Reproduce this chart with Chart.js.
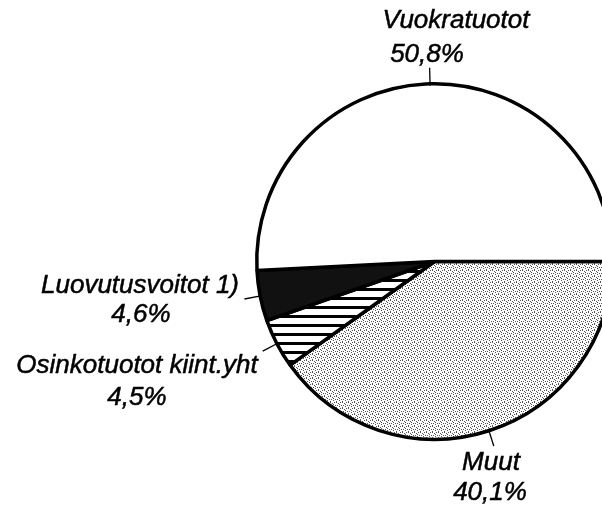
<!DOCTYPE html>
<html>
<head>
<meta charset="utf-8">
<script src="https://cdn.jsdelivr.net/npm/chart.js@4"></script>
<style>
  html, body { margin: 0; padding: 0; background: #fff; overflow: hidden; }
  #wrap { width: 640px; height: 506px; }
</style>
</head>
<body>
<div id="wrap"><canvas id="pie" width="640" height="506"></canvas></div>
<script>
// slices clockwise from 3 o'clock
const categories = ['Muut', 'Osinkotuotot kiint.yht', 'Luovutusvoitot 1)', 'Vuokratuotot'];
const shares = [40.1, 4.5, 4.6, 50.8];

// label text anchors: [name x, name baseline, pct x, pct baseline]
const labelPos = [
  [491, 470, 490, 500],
  [137, 373, 137, 405],
  [140, 293, 141, 322],
  [456, 28, 427, 62]
];

function stipple() {
  const c = document.createElement('canvas');
  c.width = 6; c.height = 6;
  const g = c.getContext('2d');
  g.fillStyle = '#fff';
  g.fillRect(0, 0, 6, 6);
  g.fillStyle = '#555';
  [[0,0],[2,1],[4,0],[1,3],[3,2],[5,3],[0,5],[3,4]].forEach(p => g.fillRect(p[0], p[1], 1, 1));
  return g.createPattern(c, 'repeat');
}
function hatch() {
  const c = document.createElement('canvas');
  c.width = 4; c.height = 9;
  const g = c.getContext('2d');
  g.fillStyle = '#fff';
  g.fillRect(0, 0, 4, 9);
  g.fillStyle = '#000';
  g.fillRect(0, 0, 4, 3);
  return g.createPattern(c, 'repeat');
}

const labelPlugin = {
  id: 'pieLabels',
  afterDraw(chart) {
    const ctx = chart.ctx;
    const arcs = chart.getDatasetMeta(0).data;
    ctx.save();
    ctx.strokeStyle = '#000';
    ctx.fillStyle = '#000';
    ctx.font = 'italic 26px "Liberation Sans", Arial, sans-serif';
    ctx.textAlign = 'center';
    ctx.textBaseline = 'alphabetic';
    arcs.forEach((arc, i) => {
      const mid = (arc.startAngle + arc.endAngle) / 2;
      const r = arc.outerRadius;
      const x0 = arc.x + Math.cos(mid) * (r - 2);
      const y0 = arc.y + Math.sin(mid) * (r - 2);
      const x1 = arc.x + Math.cos(mid) * (r + 16);
      const y1 = arc.y + Math.sin(mid) * (r + 16);
      ctx.lineWidth = 1.3;
      ctx.beginPath();
      ctx.moveTo(x0, y0);
      ctx.lineTo(x1, y1);
      ctx.stroke();
      const p = labelPos[i];
      const pct = shares[i].toFixed(1).replace('.', ',') + '%';
      ctx.lineWidth = 0.5;
      ctx.fillText(categories[i], p[0], p[1]);
      ctx.strokeText(categories[i], p[0], p[1]);
      ctx.fillText(pct, p[2], p[3]);
      ctx.strokeText(pct, p[2], p[3]);
    });
    ctx.restore();
  }
};

new Chart(document.getElementById('pie'), {
  type: 'pie',
  data: {
    labels: categories,
    datasets: [{
      data: shares,
      backgroundColor: [stipple(), hatch(), '#111', '#fff'],
      borderColor: '#000',
      borderWidth: 3.5
    }]
  },
  options: {
    responsive: false,
    animation: false,
    events: [],
    rotation: 90,
    layout: { padding: { left: 255, right: 26, top: 82, bottom: 65 } },
    plugins: { legend: { display: false }, tooltip: { enabled: false } }
  },
  plugins: [labelPlugin]
});
</script>
</body>
</html>
